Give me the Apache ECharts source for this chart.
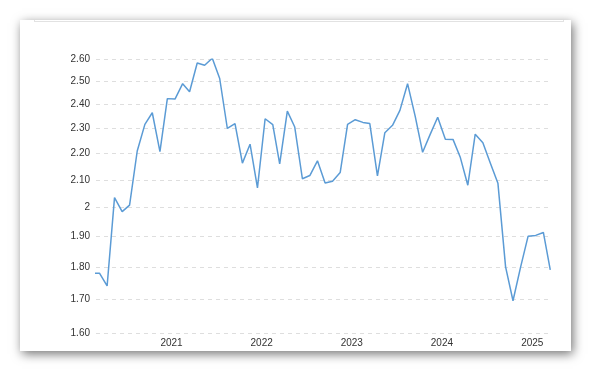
<!DOCTYPE html>
<html>
<head>
<meta charset="utf-8">
<script src="https://cdn.jsdelivr.net/npm/echarts@6/dist/echarts.min.js"></script>
<style>
  html, body { margin: 0; padding: 0; background: #fff; }
  #wrap { position: relative; width: 591px; height: 371px; overflow: hidden; background: #fff; }
  #card { position: absolute; left: 20px; top: 20px; width: 551px; height: 331px; background: #fff;
          box-shadow: 2px 3px 10px rgba(0,0,0,0.55); }
  #topline { position: absolute; left: 34px; top: 20px; width: 530px; height: 2px;
             border: 1px solid #e2e2e2; border-top: none; box-sizing: border-box; }
  #chart { position: absolute; left: 0; top: 0; width: 591px; height: 371px; }
</style>
</head>
<body>
<div id="wrap">
  <div id="card"></div>
  <div id="topline"></div>
  <div id="chart"></div>
</div>
<script>
const months = [
  '2020-02','2020-03','2020-04','2020-05','2020-06','2020-07','2020-08','2020-09','2020-10','2020-11','2020-12',
  '2021-01','2021-02','2021-03','2021-04','2021-05','2021-06','2021-07','2021-08','2021-09','2021-10','2021-11','2021-12',
  '2022-01','2022-02','2022-03','2022-04','2022-05','2022-06','2022-07','2022-08','2022-09','2022-10','2022-11','2022-12',
  '2023-01','2023-02','2023-03','2023-04','2023-05','2023-06','2023-07','2023-08','2023-09','2023-10','2023-11','2023-12',
  '2024-01','2024-02','2024-03','2024-04','2024-05','2024-06','2024-07','2024-08','2024-09','2024-10','2024-11','2024-12',
  '2025-01','2025-02','2025-03'
];
const values = [
  1.78, 1.78, 1.74, 2.035, 1.985, 2.008, 2.21, 2.317, 2.365, 2.208, 2.425,
  2.423, 2.49, 2.455, 2.583, 2.573, 2.605, 2.513, 2.30, 2.32, 2.163, 2.237, 2.07,
  2.34, 2.316, 2.16, 2.372, 2.306, 2.104, 2.116, 2.172, 2.088, 2.095, 2.127, 2.317,
  2.336, 2.325, 2.32, 2.115, 2.283, 2.313, 2.375, 2.49, 2.35, 2.205, 2.277, 2.346,
  2.257, 2.256, 2.187, 2.08, 2.277, 2.243, 2.164, 2.087, 1.80, 1.695, 1.80, 1.90,
  1.903, 1.913, 1.79
];
const yTicks = [1.6, 1.7, 1.8, 1.9, 2.0, 2.1, 2.2, 2.3, 2.4, 2.5, 2.6];
const xTickDates = ['2021-01-01', '2022-01-01', '2023-01-01', '2024-01-01', '2025-01-01'];

const ts = s => Date.parse(s + 'T00:00:00Z');
const chart = echarts.init(document.getElementById('chart'), null, { renderer: 'canvas' });
const seriesData = months.map((m, i) => [ts(m + '-15'), values[i]]);

chart.setOption({
  backgroundColor: 'transparent',
  animation: false,
  grid: { left: 96, right: 39, top: 59.3, bottom: 37.7, containLabel: false },
  xAxis: {
    type: 'value',
    min: ts('2020-03-01'),
    max: ts('2025-03-22'),
    axisLine: { show: false },
    axisTick: { show: false, customValues: xTickDates.map(ts) },
    splitLine: { show: false },
    axisLabel: {
      customValues: xTickDates.map(ts),
      formatter: function (v) { return String(new Date(v).getUTCFullYear()); },
      color: '#333',
      fontFamily: 'Liberation Sans, Arial, sans-serif',
      fontSize: 10,
      margin: 5,
      showMinLabel: true,
      showMaxLabel: true,
      hideOverlap: false
    }
  },
  yAxis: {
    type: 'log',
    logBase: 10,
    min: 1.6,
    max: 2.6,
    axisLine: { show: false },
    axisTick: { show: false, customValues: yTicks },
    axisLabel: {
      customValues: yTicks,
      formatter: function (v) { return Math.abs(v - 2) < 1e-9 ? '2' : Number(v).toFixed(2); },
      color: '#333',
      fontFamily: 'Liberation Sans, Arial, sans-serif',
      fontSize: 10,
      margin: 6
    },
    splitLine: { show: true, lineStyle: { color: '#dedede', type: [4, 4], width: 1 } }
  },
  series: [{
    type: 'line',
    data: seriesData,
    showSymbol: false,
    symbol: 'none',
    clip: true,
    lineStyle: { color: '#5b9bd5', width: 1.5 }
  }]
});
</script>
</body>
</html>
